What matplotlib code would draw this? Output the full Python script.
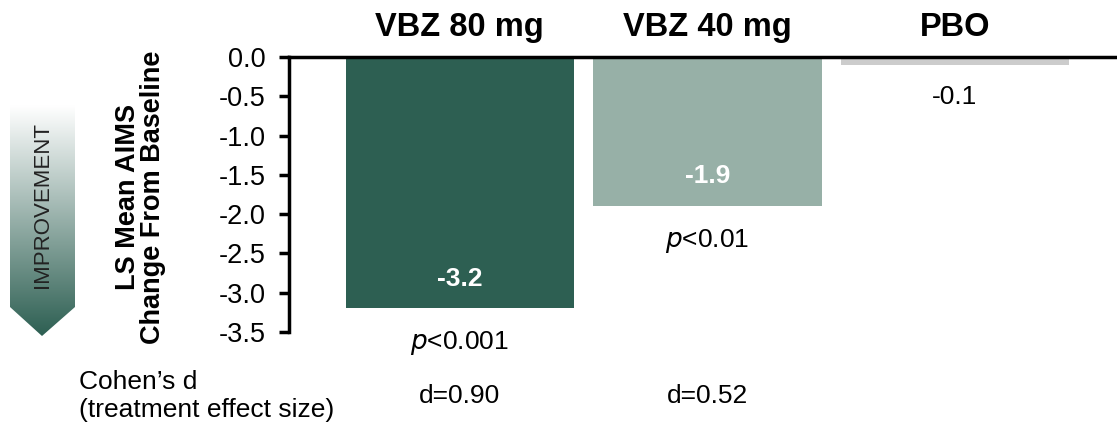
import numpy as np
import matplotlib.pyplot as plt
from matplotlib.colors import LinearSegmentedColormap
from matplotlib.patches import Polygon
from matplotlib.transforms import blended_transform_factory

plt.rcParams['font.family'] = ['Liberation Sans', 'DejaVu Sans']

groups = ["VBZ 80 mg", "VBZ 40 mg", "PBO"]
ls_mean = [-3.2, -1.9, -0.1]
value_labels = ["-3.2", "-1.9", "-0.1"]
p_values = ["$\\it{p}$<0.001", "$\\it{p}$<0.01", ""]
cohens_d = ["d=0.90", "d=0.52", ""]
bar_colors = ["#2d5f52", "#97b0a7", "#cccccc"]
yticks = [0.0, -0.5, -1.0, -1.5, -2.0, -2.5, -3.0, -3.5]

W, H = 1117, 434
fig = plt.figure(figsize=(W / 100, H / 100), dpi=100)

# arrow "IMPROVEMENT" on a pixel-space overlay
bg = fig.add_axes([0, 0, 1, 1])
bg.set_xlim(0, W)
bg.set_ylim(H, 0)
bg.axis("off")
cmap = LinearSegmentedColormap.from_list("grad", ["#ffffff", "#2d5f52"])
grad = np.linspace(0, 1, 256).reshape(-1, 1)
arrow = Polygon([[10, 105], [75, 105], [75, 307], [42, 336], [10, 307]],
                closed=True, facecolor="none", edgecolor="none")
bg.add_patch(arrow)
im = bg.imshow(grad, cmap=cmap, extent=[10, 75, 336, 105], aspect="auto")
im.set_clip_path(arrow)
bg.text(43, 205, "IMPROVEMENT", rotation=90, ha="center", va="center",
        fontsize=16, color="#222222")

ax = fig.add_axes([289 / W, 1 - 332 / H, 1 - 289 / W, 275 / H])
x = np.arange(len(groups))
ax.bar(x, ls_mean, width=0.923, color=bar_colors)
ax.set_xlim(-0.69, 2.655)
ax.set_ylim(-3.5, 0)
ax.set_yticks(yticks)
ax.set_yticklabels([f"{t:.1f}" for t in yticks])
ax.set_xticks([])
for s in ["right", "bottom"]:
    ax.spines[s].set_visible(False)
for s in ["left", "top"]:
    ax.spines[s].set_linewidth(2.5)
ax.tick_params(axis="y", direction="out", length=7, width=2.5, labelsize=19.5, pad=10)
ax.set_ylabel("LS Mean AIMS\nChange From Baseline", fontsize=19.5,
              fontweight="bold", linespacing=0.95)
ax.yaxis.set_label_coords(-0.148, 0.49)

for i, g in enumerate(groups):
    ax.annotate(g, xy=(x[i], 0), xytext=(0, 21), textcoords="offset points",
                ha="center", va="center", fontsize=23.5, fontweight="bold",
                annotation_clip=False)

# value labels
for i, v in enumerate(ls_mean):
    if v < -1:
        ax.text(x[i], v + 0.38, value_labels[i], ha="center", va="center",
                color="white", fontweight="bold", fontsize=19)
    else:
        ax.annotate(value_labels[i], xy=(x[i], v), xytext=(0, -23),
                    textcoords="offset points", ha="center", va="center",
                    fontsize=19)

for i, p in enumerate(p_values):
    if p:
        ax.annotate(p, xy=(x[i], ls_mean[i]), xytext=(0, -25),
                    textcoords="offset points", ha="center", va="center",
                    fontsize=19, annotation_clip=False)

tr = blended_transform_factory(ax.transData, ax.transAxes)
for i, d in enumerate(cohens_d):
    if d:
        ax.text(x[i], -0.233, d, transform=tr, ha="center", va="center", fontsize=19)

fig.text(79 / W, 1 - 396 / H, "Cohen\u2019s d\n(treatment effect size)",
         ha="left", va="center", fontsize=19)

fig.savefig("out.png", dpi=100)
